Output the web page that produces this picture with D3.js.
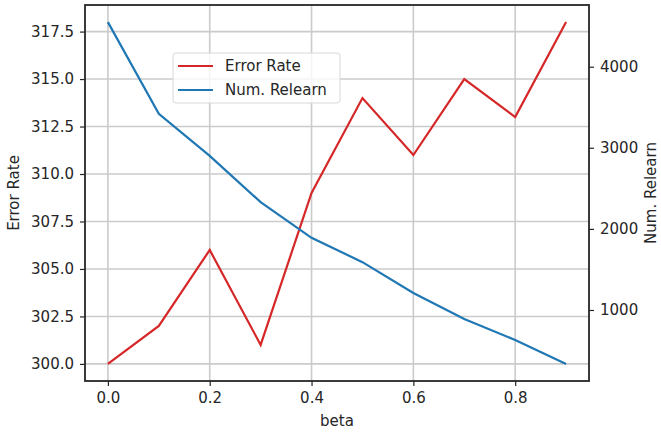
<!DOCTYPE html>
<html>
<head>
<meta charset="utf-8">
<script src="https://cdn.jsdelivr.net/npm/d3@7"></script>
<style>
  body { margin: 0; background: #fff; }
  text { font-family: "DejaVu Sans", sans-serif; fill: #262626; }
</style>
</head>
<body>
<svg id="chart" width="661" height="432"></svg>
<script>
// data
const betas = [0.0, 0.1, 0.2, 0.3, 0.4, 0.5, 0.6, 0.7, 0.8, 0.9];
const errorRate = [300, 302, 306, 301, 309, 314, 311, 315, 313, 318];
const numRelearn = [4550, 3420, 2900, 2330, 1890, 1590, 1210, 890, 630, 335];
const xTicks = [0.0, 0.2, 0.4, 0.6, 0.8];
const leftTicks = [300, 302.5, 305, 307.5, 310, 312.5, 315, 317.5];
const rightTicks = [1000, 2000, 3000, 4000];

const svg = d3.select("#chart");
const margin = { top: 5, right: 72, bottom: 51, left: 85 };
const W = 661, H = 432;
const fs = "15px";

const x = d3.scaleLinear().domain([-0.045, 0.945]).range([margin.left, W - margin.right]);
const yL = d3.scaleLinear().domain([299.1, 318.9]).range([H - margin.bottom, margin.top]);
const nMin = d3.min(numRelearn), nMax = d3.max(numRelearn), pad = (nMax - nMin) * 0.05;
const yR = d3.scaleLinear().domain([nMin - pad, nMax + pad]).range([H - margin.bottom, margin.top]);

// grid
const grid = svg.append("g").attr("stroke", "#cbcbcb").attr("stroke-width", 1.6);
grid.selectAll(".gx").data(xTicks).join("line")
    .attr("x1", d => x(d)).attr("x2", d => x(d))
    .attr("y1", margin.top).attr("y2", H - margin.bottom);
grid.selectAll(".gy").data(leftTicks).join("line")
    .attr("x1", margin.left).attr("x2", W - margin.right)
    .attr("y1", d => yL(d)).attr("y2", d => yL(d));

// axes
const xAxis = svg.append("g")
    .attr("transform", `translate(0,${H - margin.bottom})`)
    .call(d3.axisBottom(x).tickValues(xTicks).tickFormat(d3.format(".1f")).tickSize(5).tickPadding(6));
const lAxis = svg.append("g")
    .attr("transform", `translate(${margin.left},0)`)
    .call(d3.axisLeft(yL).tickValues(leftTicks).tickFormat(d3.format(".1f")).tickSize(5).tickPadding(6));
const rAxis = svg.append("g")
    .attr("transform", `translate(${W - margin.right},0)`)
    .call(d3.axisRight(yR).tickValues(rightTicks).tickFormat(d3.format("d")).tickSize(5).tickPadding(6));

[xAxis, lAxis, rAxis].forEach(a => {
  a.select(".domain").remove();
  a.selectAll("line").attr("stroke", "#262626").attr("stroke-width", 1.2);
  a.selectAll("text").style("font-size", fs).style("font-family", "DejaVu Sans").attr("fill", "#262626");
});

// lines
const lineL = d3.line().x((d, i) => x(betas[i])).y(d => yL(d));
const lineR = d3.line().x((d, i) => x(betas[i])).y(d => yR(d));
svg.append("path").datum(errorRate).attr("d", lineL)
    .attr("fill", "none").attr("stroke", "#d62728").attr("stroke-width", 2.2);
svg.append("path").datum(numRelearn).attr("d", lineR)
    .attr("fill", "none").attr("stroke", "#1f77b4").attr("stroke-width", 2.2);

// frame
svg.append("rect")
    .attr("x", margin.left).attr("y", margin.top)
    .attr("width", W - margin.left - margin.right).attr("height", H - margin.top - margin.bottom)
    .attr("fill", "none").attr("stroke", "#262626").attr("stroke-width", 1.8);

// axis labels
svg.append("text").attr("x", (margin.left + W - margin.right) / 2).attr("y", 426)
    .attr("text-anchor", "middle").style("font-size", fs).text("beta");
svg.append("text").attr("transform", `translate(19,${(margin.top + H - margin.bottom) / 2}) rotate(-90)`)
    .attr("text-anchor", "middle").style("font-size", fs).text("Error Rate");
svg.append("text").attr("transform", `translate(656,${(margin.top + H - margin.bottom) / 2}) rotate(-90)`)
    .attr("text-anchor", "middle").style("font-size", fs).text("Num. Relearn");

// legend
const legend = svg.append("g").attr("transform", "translate(173,53)");
legend.append("rect").attr("width", 167).attr("height", 50).attr("rx", 3)
    .attr("fill", "#fff").attr("fill-opacity", 0.8).attr("stroke", "#d8d8d8");
const items = [["Error Rate", "#d62728"], ["Num. Relearn", "#1f77b4"]];
items.forEach(([label, color], i) => {
  const g = legend.append("g").attr("transform", `translate(0,${13 + i * 24})`);
  g.append("line").attr("x1", 5).attr("x2", 40).attr("stroke", color).attr("stroke-width", 2.2);
  g.append("text").attr("x", 52).attr("dy", "0.35em").style("font-size", fs).text(label);
});
</script>
</body>
</html>
